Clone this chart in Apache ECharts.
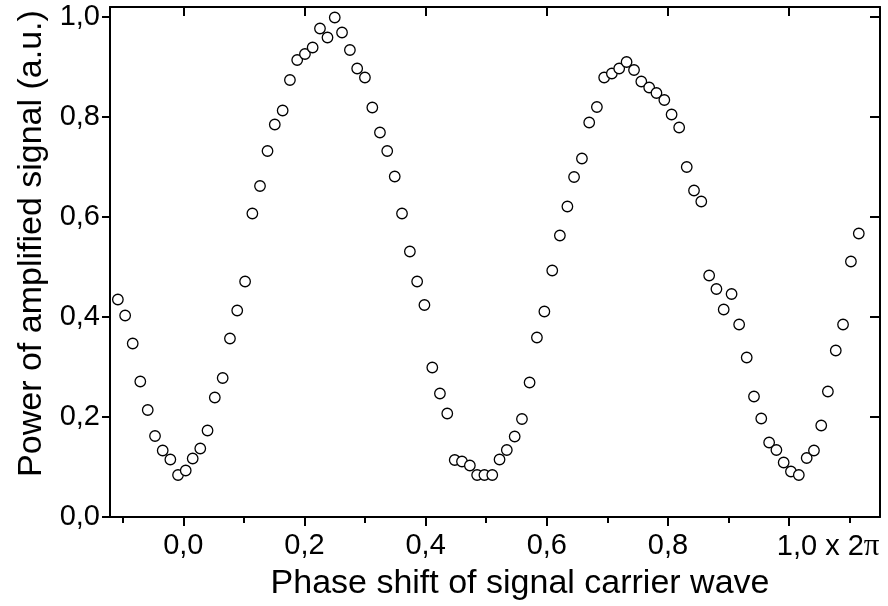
<!DOCTYPE html>
<html>
<head>
<meta charset="utf-8">
<script src="https://cdn.jsdelivr.net/npm/echarts@6/dist/echarts.min.js"></script>
<style>
html,body{margin:0;padding:0;background:#fff;}
#chart{width:888px;height:606px;}
</style>
</head>
<body>
<div id="chart"></div>
<script>
// Phase shift (units of 2π)
const phaseShift = [
  -0.108, -0.096, -0.0835, -0.071, -0.0587, -0.0467, -0.034, -0.0214, -0.0087, 0.004,
  0.0155, 0.028, 0.040, 0.052, 0.065, 0.077, 0.089, 0.102, 0.114, 0.1266,
  0.139, 0.151, 0.164, 0.176, 0.188, 0.2008, 0.2135, 0.2256, 0.238, 0.250,
  0.262, 0.275, 0.287, 0.2998, 0.312, 0.3246, 0.3366, 0.349, 0.361, 0.374,
  0.386, 0.398, 0.411, 0.4236, 0.4357, 0.448, 0.460, 0.473, 0.485, 0.497,
  0.510, 0.522, 0.534, 0.547, 0.559, 0.5716, 0.5837, 0.596, 0.609, 0.6216,
  0.634, 0.645, 0.658, 0.670, 0.6827, 0.6947, 0.7074, 0.7195, 0.7317, 0.744,
  0.756, 0.769, 0.781, 0.794, 0.806, 0.8185, 0.831, 0.843, 0.855, 0.868,
  0.880, 0.892, 0.905, 0.9175, 0.930, 0.942, 0.954, 0.967, 0.979, 0.991,
  1.003, 1.016, 1.029, 1.041, 1.053, 1.064, 1.077, 1.089, 1.102, 1.115
];
// Power of amplified signal (a.u.)
const power = [
  0.435, 0.403, 0.347, 0.271, 0.214, 0.162, 0.133, 0.115, 0.084, 0.093,
  0.117, 0.137, 0.173, 0.239, 0.278, 0.357, 0.413, 0.471, 0.607, 0.662,
  0.732, 0.785, 0.813, 0.874, 0.914, 0.926, 0.939, 0.977, 0.959, 0.999,
  0.969, 0.934, 0.897, 0.879, 0.819, 0.769, 0.732, 0.681, 0.607, 0.531,
  0.471, 0.424, 0.299, 0.247, 0.207, 0.114, 0.111, 0.103, 0.084, 0.084,
  0.084, 0.115, 0.134, 0.161, 0.196, 0.269, 0.359, 0.411, 0.493, 0.563,
  0.621, 0.680, 0.717, 0.789, 0.820, 0.879, 0.887, 0.897, 0.910, 0.894,
  0.871, 0.859, 0.848, 0.834, 0.805, 0.779, 0.700, 0.653, 0.631, 0.483,
  0.456, 0.415, 0.446, 0.385, 0.319, 0.241, 0.197, 0.149, 0.134, 0.109,
  0.091, 0.084, 0.118, 0.133, 0.183, 0.251, 0.333, 0.385, 0.511, 0.567
];
const xMajorTicks = [0.0, 0.2, 0.4, 0.6, 0.8, 1.0];
const xMinorTicks = [-0.1, 0.1, 0.3, 0.5, 0.7, 0.9, 1.1];
const yMajorTicks = [0.0, 0.2, 0.4, 0.6, 0.8, 1.0];

const X_MIN = -0.121, X_MAX = 1.15, Y_MIN = 0, Y_MAX = 1.02;
const FONT = 'Liberation Sans, Arial, sans-serif';
const fmt = v => v.toFixed(1).replace('.', ',');
const axisLine = {show: true, onZero: false, lineStyle: {color: '#000', width: 2}};

const chart = echarts.init(document.getElementById('chart'), null, {renderer: 'canvas'});
const option = {
  animation: false,
  backgroundColor: '#fff',
  grid: {left: 110, right: 8, top: 7, bottom: 89, containLabel: false},
  xAxis: [
    {
      type: 'value', position: 'bottom', min: X_MIN, max: X_MAX,
      axisLine: axisLine,
      axisTick: {show: true, customValues: xMajorTicks, length: 9, inside: false, lineStyle: {color: '#000', width: 2}},
      axisLabel: {
        show: true, customValues: xMajorTicks, margin: 14, color: '#000',
        fontSize: 29, fontFamily: FONT,
        formatter: v => Math.abs(v - 1) < 1e-9 ? '{a|1,0}{b| x 2}{p|π}' : fmt(v),
        rich: {
          a: {fontSize: 29, fontFamily: FONT, color: '#000', padding: [0, 0, 0, 78]},
          b: {fontSize: 29, fontFamily: FONT, color: '#000'},
          p: {fontSize: 31, fontFamily: 'Liberation Serif, serif', color: '#000'}
        }
      },
      splitLine: {show: false},
      name: 'Phase shift of signal carrier wave', nameLocation: 'middle', nameGap: 48,
      nameTextStyle: {fontSize: 34, fontFamily: FONT, color: '#000', padding: [0, 0, 0, 50]}
    },
    {
      type: 'value', position: 'bottom', min: X_MIN, max: X_MAX,
      axisLine: {show: false},
      axisTick: {show: true, customValues: xMinorTicks, length: 6, inside: false, lineStyle: {color: '#000', width: 2}},
      axisLabel: {show: false}, splitLine: {show: false}
    },
    {
      type: 'value', position: 'top', min: X_MIN, max: X_MAX,
      axisLine: axisLine,
      axisTick: {show: true, customValues: xMajorTicks, length: 9, inside: true, lineStyle: {color: '#000', width: 2}},
      axisLabel: {show: false}, splitLine: {show: false}
    },
    {
      type: 'value', position: 'top', min: X_MIN, max: X_MAX,
      axisLine: {show: false},
      axisTick: {show: true, customValues: xMinorTicks, length: 6, inside: true, lineStyle: {color: '#000', width: 2}},
      axisLabel: {show: false}, splitLine: {show: false}
    }
  ],
  yAxis: [
    {
      type: 'value', position: 'left', min: Y_MIN, max: Y_MAX,
      axisLine: axisLine,
      axisTick: {show: true, customValues: yMajorTicks, length: 8, inside: false, lineStyle: {color: '#000', width: 2}},
      axisLabel: {show: true, customValues: yMajorTicks, margin: 10, color: '#000', fontSize: 29, fontFamily: FONT, formatter: fmt},
      splitLine: {show: false},
      name: 'Power of amplified signal (a.u.)', nameLocation: 'middle', nameGap: 61, nameRotate: 90,
      nameTextStyle: {fontSize: 34, fontFamily: FONT, color: '#000', padding: [0, 0, 0, 37]}
    },
    {
      type: 'value', position: 'right', min: Y_MIN, max: Y_MAX,
      axisLine: axisLine,
      axisTick: {show: true, customValues: yMajorTicks, length: 10, inside: true, lineStyle: {color: '#000', width: 2}},
      axisLabel: {show: false}, splitLine: {show: false}
    }
  ],
  series: [{
    type: 'scatter',
    xAxisIndex: 0, yAxisIndex: 0,
    data: phaseShift.map((x, i) => [x, power[i]]),
    symbol: 'circle', symbolSize: 10.5,
    itemStyle: {color: '#fff', borderColor: '#000', borderWidth: 1.3, opacity: 1},
    emphasis: {disabled: true}
  }]
};
chart.setOption(option);
</script>
</body>
</html>
